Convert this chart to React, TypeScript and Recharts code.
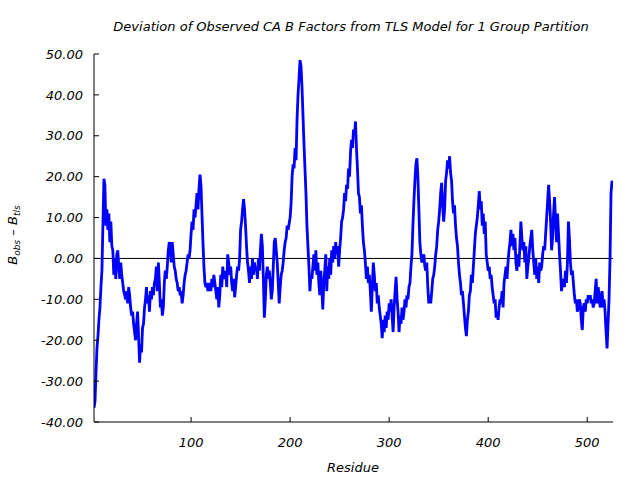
import { LineChart, Line, XAxis, YAxis, ReferenceLine } from "recharts";

// CA B-factor deviation, one value per residue starting at residue 2
const firstResidue = 2;
const deviation = [
  -36.5, -35, -28, -22, -19, -15, -12, -7, -3, 8, 19.5, 18, 8, 12, 7, 11, 4, 9, 3,
  2, -4, 0, -5, 1, 2, -2, -5, -1, -4, -6, -8, -9, -10, -8, -11, -7, -9, -12, -14,
  -13, -16, -18, -20, -16, -13, -19, -25.5, -21, -23, -17, -16, -12, -10, -7, -11, -9, -13, -8, -10,
  -7, -9, -6, -5, -2, -8, -1, -6, -12, -10, -14, -12, -6, -3, -5, -2, 2, 4, 3, -1,
  4, 1, -2, -3, -5, -6, -8, -7, -9, -8, -11, -9, -6, -4, -3, -1, 1, 0, 2, 6,
  9, 7, 12, 10, 13, 16, 12, 17, 20.5, 18, 11, 4, -2, -6, -7, -6, -8, -7, -6, -8,
  -5, -7, -4, -6, -8, -10, -7, -12, -9, -4, -7, -2, -5, -4, -3, -7, 1, -1, -4, -2,
  -6, -8, -5, -9.5, -7, -4, -2, -3, 0, 7, 9, 12, 14.5, 12, 8, 3, -1, -3, -6, -2,
  -5, 0, -4, -1, -3, -2, -5, 0, -3, 2, 6, 3, -5, -14.5, -10, -4, -2, -5, -3, -6,
  -10, -8, -2, 4, 5, 2, -1, -6, -11, -7, -4, -3, -1, 2, 4, 5, 8, 7, 8.5, 10,
  13.5, 20, 23, 22, 27, 24, 34, 40, 44, 48.5, 47, 42, 35, 28, 22, 16, 8, 3, -2, -8,
  -4, -5, -2, 1, -3, 2, -4, -1, -6, -9, -3, -7, -12.5, -6, -3, 1, -8, -2, -5, 0,
  -4, 2, -1, 3, 0, 4, 1, 3, -2, 2, 5, 9, 10, 12, 16, 14, 18, 17, 22, 20,
  26, 29, 27, 31.5, 30, 33.5, 27, 22, 16, 15, 11, 13, 8, 4, 2, -1, -5, -2, -6, -4,
  -8, -13, -7, -1, -4, -8, -6, -11, -9, -12, -14, -16, -19.5, -15, -18, -14, -17, -13, -15, -11,
  -13, -10, -14, -18, -12, -8, -4.5, -10, -13, -18, -14, -16, -12, -15, -13, -10, -12, -9, -10, -7,
  -6, -2, 1, 8, 14, 19, 23, 24.5, 20, 12, 4, 1, -1, 0, 1, -2, -3, -1, -7, -11,
  -9, -11, -8, -5, -4, -2, 1, 3, 7, 9, 12, 16, 18.5, 13, 9, 12, 19, 21, 24, 22,
  25, 21, 19, 14, 11, 13, 8, 5, 3, -1, -4, -6, -9, -8, -11, -14, -17, -19, -15, -13,
  -9, -8, -4, -6, -2, 2, 6, 8, 10, 13, 16.5, 12, 14, 8, 11, 6, 9, 1, -1, -3,
  -2, -5, -4, -7, -9, -11, -10, -14.5, -13, -15, -12, -10, -11, -8, -12, -6, -4, -2, -5, -1,
  2, 4, 7, 3, 6, 2, 5, -1, -3, 1, -2, 3, 9, 5, 2, 4, -1, 3, -5, -2,
  0, 3, 5, 7, 2, -1, -4, 0, -5, -2, -6, -1, -3, -2, 1, 3, 2, 6, 10, 14,
  18, 14, 9, 2, 5, 11, 15, 9, 4, 11, 6, 1, -3, -8, -6, -5, -7, -3, -6, -1,
  9, 5, -1, -4, -3, -6, -9, -11, -10, -13, -12, -10, -11, -15, -17.5, -12, -11, -13, -10, -11,
  -9, -10, -9, -11, -10, -12, -11, -8, -5, -11, -7, -9, -12, -10, -8, -12, -10, -13, -18, -22,
  -16, -10, 0, 16, 19, 18,
];

const residueTicks = [100, 200, 300, 400, 500];
const valueTicks = [-40, -30, -20, -10, 0, 10, 20, 30, 40, 50];

const data = deviation.map((v, i) => ({ residue: firstResidue + i, dev: v }));

const font = "'DejaVu Sans', sans-serif";
const tickStyle = { fontSize: 13, fontStyle: "italic", fontFamily: font, fill: "#000" };
const noLabel = () => <g />;

export default function App() {
  return (
    <div style={{ position: "fixed", left: 0, top: 0, width: 640, height: 480, background: "#fff" }}>
      <LineChart
        width={640}
        height={480}
        data={data}
        margin={{ top: 54, right: 27, bottom: 0, left: 0 }}
      >
        <XAxis
          dataKey="residue"
          type="number"
          domain={[2, 526]}
          ticks={residueTicks}
          allowDataOverflow
          height={58}
          tickSize={-5}
          tickMargin={21}
          stroke="#000"
          tick={tickStyle}
          tickFormatter={(v: number) => String(v)}
        />
        <XAxis
          xAxisId="top"
          orientation="top"
          dataKey="residue"
          type="number"
          domain={[2, 526]}
          ticks={residueTicks}
          allowDataOverflow
          height={0}
          tickSize={-5}
          stroke="#000"
          tick={noLabel}
        />
        <YAxis
          type="number"
          domain={[-40, 50]}
          ticks={valueTicks}
          allowDataOverflow
          width={94}
          tickSize={-5}
          tickMargin={16}
          stroke="#000"
          tick={tickStyle}
          tickFormatter={(v: number) => v.toFixed(2)}
        />
        <YAxis
          yAxisId="right"
          orientation="right"
          type="number"
          domain={[-40, 50]}
          ticks={valueTicks}
          allowDataOverflow
          width={0}
          tickSize={-5}
          stroke="#000"
          tick={noLabel}
        />
        <ReferenceLine y={0} stroke="#000" strokeWidth={1} />
        <Line
          type="linear"
          dataKey="dev"
          stroke="#0000ff"
          strokeWidth={2.8}
          dot={false}
          isAnimationActive={false}
        />
      </LineChart>
      <svg
        width={640}
        height={480}
        style={{ position: "absolute", left: 0, top: 0, pointerEvents: "none" }}
      >
        <text x={351} y={31} textAnchor="middle" fontFamily={font} fontStyle="italic" fontSize={13}>
          Deviation of Observed CA B Factors from TLS Model for 1 Group Partition
        </text>
        <text x={353} y={472} textAnchor="middle" fontFamily={font} fontStyle="italic" fontSize={13}>
          Residue
        </text>
        <text
          transform="translate(17, 235) rotate(-90)"
          textAnchor="middle"
          fontFamily={font}
          fontStyle="italic"
          fontSize={13}
        >
          B<tspan fontSize={9} dy={3}>obs</tspan>
          <tspan dy={-3}> – B</tspan>
          <tspan fontSize={9} dy={3}>tls</tspan>
        </text>
      </svg>
    </div>
  );
}
